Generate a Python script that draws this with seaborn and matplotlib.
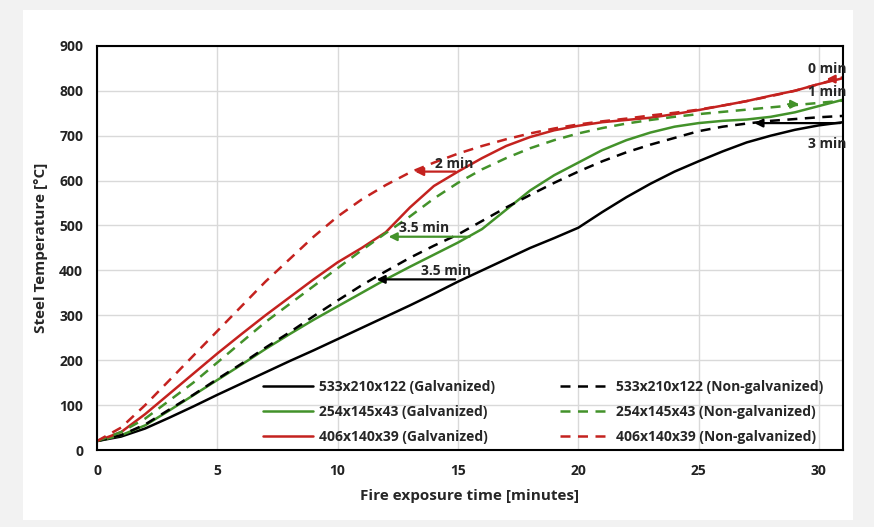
import numpy as np
import pandas as pd
import matplotlib
matplotlib.use('Agg')
import matplotlib.pyplot as plt
import seaborn as sns
from matplotlib.patches import Rectangle

# exposure time (minutes)
minutes = list(range(0, 32))

# steel temperature readings (deg C)
t533_galv = [20, 30, 48, 72, 97, 123, 148, 173, 198, 222, 247, 272, 297, 322, 348, 375,
             400, 425, 450, 472, 495, 530, 563, 593, 620, 643, 665, 685, 700, 713, 723, 730]
t533_non = [20, 33, 57, 90, 123, 158, 192, 228, 262, 298, 333, 367, 398, 428, 455, 480,
            510, 540, 568, 595, 620, 643, 663, 680, 695, 710, 720, 727, 733, 737, 741, 744]
t254_galv = [20, 33, 55, 88, 122, 156, 190, 225, 258, 290, 320, 350, 380, 408, 435, 462,
             492, 535, 578, 612, 640, 668, 690, 707, 720, 728, 733, 736, 742, 752, 766, 780]
t254_non = [20, 40, 70, 110, 150, 195, 240, 285, 325, 365, 405, 445, 483, 520, 560, 595,
            625, 650, 672, 690, 705, 717, 727, 735, 742, 748, 753, 758, 763, 768, 773, 778]
t406_galv = [20, 40, 80, 125, 170, 215, 258, 300, 340, 380, 418, 450, 485, 540, 588, 620,
             650, 677, 697, 712, 722, 730, 735, 740, 748, 757, 767, 777, 789, 800, 815, 828]
t406_non = [20, 50, 100, 155, 210, 265, 320, 375, 425, 475, 520, 558, 590, 618, 640, 660,
            677, 692, 705, 716, 725, 732, 738, 745, 751, 758, 767, 777, 788, 800, 815, 830]

labels = ['533x210x122 (Galvanized)', '254x145x43 (Galvanized)', '406x140x39 (Galvanized)',
          '533x210x122 (Non-galvanized)', '254x145x43 (Non-galvanized)', '406x140x39 (Non-galvanized)']
series = [t533_galv, t254_galv, t406_galv, t533_non, t254_non, t406_non]
colors = ['black', '#43922a', '#c4221f', 'black', '#43922a', '#c4221f']
dashed = [False, False, False, True, True, True]

sns.set_theme(style='white')
plt.rcParams['font.family'] = ['Open Sans', 'DejaVu Sans']

fig = plt.figure(figsize=(8.74, 5.27), dpi=100)
fig.patch.set_facecolor('#f2f2f2')
fig.add_artist(Rectangle((0.026, 0.013), 0.95, 0.968, transform=fig.transFigure,
                         facecolor='white', edgecolor='none', zorder=-5))
ax = fig.add_axes([0.111, 0.146, 0.8535, 0.767])

for lab, vals, col, dsh in zip(labels, series, colors, dashed):
    df = pd.DataFrame({'time': minutes, 'temp': vals})
    sns.lineplot(data=df, x='time', y='temp', ax=ax, color=col, lw=1.8,
                 linestyle=(0, (4, 3)) if dsh else '-', label=lab)

ax.set_xlim(0, 31)
ax.set_ylim(0, 900)
ax.set_xticks(range(0, 31, 5))
ax.set_yticks(range(0, 901, 100))
ax.grid(True, color='#d9d9d9', lw=1)
for s in ax.spines.values():
    s.set_color('black')
    s.set_linewidth(1.5)
ax.tick_params(axis='both', length=0, pad=10, labelsize=10, colors='#222222')
for t in ax.get_xticklabels() + ax.get_yticklabels():
    t.set_fontweight('bold')
ax.set_xlabel('Fire exposure time [minutes]', fontsize=11, fontweight='bold', labelpad=8)
ax.set_ylabel('Steel Temperature [°C]', fontsize=11, fontweight='bold', labelpad=8)

leg = ax.legend(ncol=2, loc='lower left', bbox_to_anchor=(0.2145, 0.0), frameon=False,
                prop={'size': 10, 'weight': 'bold'}, handlelength=3.6, handletextpad=0.4,
                columnspacing=4.7, labelspacing=0.8, borderaxespad=0.05)

# delay annotations
def arrow(x0, x1, y, col):
    ax.annotate('', xy=(x1, y), xytext=(x0, y),
                arrowprops=dict(arrowstyle='-|>', color=col, lw=1.6, mutation_scale=12))

arrow(15.0, 13.1, 620, '#c4221f')
arrow(15.6, 12.0, 475, '#43922a')
arrow(15.0, 11.5, 380, 'black')
arrow(31.0, 27.2, 728, 'black')
arrow(30.8, 30.2, 826, '#c4221f')
arrow(28.6, 29.3, 770, '#43922a')

kw = dict(fontsize=10, fontweight='bold', ha='center', va='bottom')
ax.text(14.85, 622, '2 min', **kw)
ax.text(13.6, 479, '3.5 min', **kw)
ax.text(14.5, 384, '3.5 min', **kw)
ax.text(30.35, 833, '0 min', **kw)
ax.text(30.35, 782, '1 min', **kw)
ax.text(30.35, 665, '3 min', **kw)

fig.savefig('out.png', dpi=100, facecolor=fig.get_facecolor())
